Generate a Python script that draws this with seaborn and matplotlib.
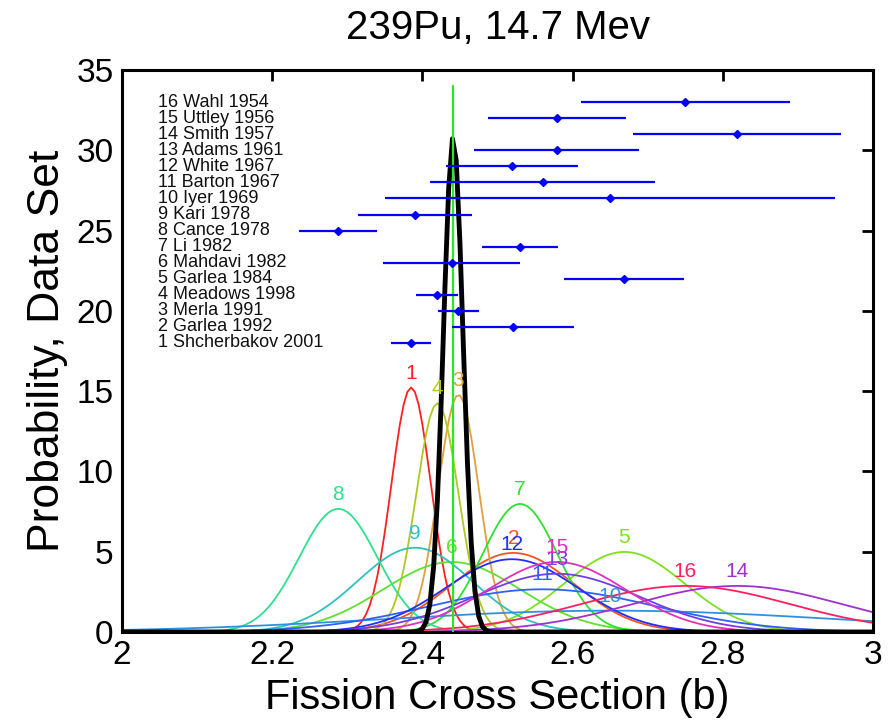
import numpy as np
import pandas as pd
import matplotlib
matplotlib.use("Agg")
import matplotlib.pyplot as plt
import seaborn as sns

# ---- data ----
set_ids = list(range(1, 17))
names = ["Shcherbakov 2001", "Garlea 1992", "Merla 1991", "Meadows 1998",
         "Garlea 1984", "Mahdavi 1982", "Li 1982", "Cance 1978", "Kari 1978",
         "Iyer 1969", "Barton 1967", "White 1967", "Adams 1961", "Smith 1957",
         "Uttley 1956", "Wahl 1954"]
means = [2.385, 2.521, 2.448, 2.420, 2.669, 2.439, 2.530, 2.288, 2.390,
         2.650, 2.560, 2.519, 2.579, 2.819, 2.579, 2.750]
sigmas = [0.0262, 0.081, 0.027, 0.028, 0.080, 0.0915, 0.050, 0.052, 0.076,
          0.300, 0.150, 0.088, 0.110, 0.139, 0.0915, 0.139]
colors = ["#ff2020", "#ff5020", "#e0a040", "#b0c820", "#80e020", "#60e030",
          "#30e030", "#30e090", "#30c0c0", "#3090e0", "#3060ff", "#2030ff",
          "#7040e0", "#a030d0", "#e030c0", "#ff2060"]
x_ticks = [2, 2.2, 2.4, 2.6, 2.8, 3]
y_ticks = [0, 5, 10, 15, 20, 25, 30, 35]

# combined (weighted) result
w = 1.0 / np.array(sigmas) ** 2
comb_mean = float(np.sum(w * np.array(means)) / np.sum(w))
comb_sigma = float(1.0 / np.sqrt(np.sum(w)))

xg = np.linspace(2.0, 3.0, 201)


def gauss(x, m, s):
    return np.exp(-0.5 * ((x - m) / s) ** 2) / (s * np.sqrt(2 * np.pi))


rows = []
for k, m, s in zip(set_ids, means, sigmas):
    for xv, yv in zip(xg, gauss(xg, m, s)):
        rows.append({"set": str(k), "x": xv, "y": yv})
df = pd.DataFrame(rows)
comb_df = pd.DataFrame({"x": xg, "y": gauss(xg, comb_mean, comb_sigma)})

sns.set_theme(style="white")
plt.rcParams["font.family"] = ["Liberation Sans", "DejaVu Sans"]
plt.rcParams["text.color"] = "black"
plt.rcParams["axes.labelcolor"] = "black"

fig = plt.figure(figsize=(8.88, 7.24), dpi=100)
ax = fig.add_axes([122 / 888, 1 - 632 / 724, (873 - 122) / 888, (632 - 70) / 724])

palette = {str(k): c for k, c in zip(set_ids, colors)}
sns.lineplot(data=df, x="x", y="y", hue="set", palette=palette, ax=ax,
             linewidth=1.3, legend=False, estimator=None, sort=False)

# labels above each peak
for k, m, s, c in zip(set_ids, means, sigmas, colors):
    pk = 1.0 / (s * np.sqrt(2 * np.pi))
    ax.text(m, pk + 0.3, str(k), color=c, fontsize=15, ha="center", va="bottom")

# combined black curve and vertical green line
sns.lineplot(data=comb_df, x="x", y="y", color="black", linewidth=3.5, ax=ax,
             estimator=None, sort=False)
ax.plot([comb_mean, comb_mean], [0, 34], color="#20ee20", linewidth=1.6, zorder=5)

# error bars per data set
ys = [k + 17 for k in set_ids]
ax.errorbar(means, ys, xerr=sigmas, fmt="D", color="#0000ff", markersize=4,
            elinewidth=1.6, capsize=0, zorder=6)
for k, nm, yv in zip(set_ids, names, ys):
    ax.text(2.048, yv, f"{k} {nm}", fontsize=13, ha="left", va="center",
            color="#111111")

ax.set_xlim(2, 3)
ax.set_ylim(0, 35)
ax.set_xticks(x_ticks)
ax.set_xticklabels([f"{v:g}" for v in x_ticks])
ax.set_yticks(y_ticks)
ax.tick_params(direction="in", length=8, width=2, labelsize=24, top=True,
               right=True, pad=6, colors="black")
for sp in ax.spines.values():
    sp.set_linewidth(2.2)
    sp.set_color("black")
ax.set_xlabel("Fission Cross Section (b)", fontsize=30, labelpad=5)
ax.set_ylabel("Probability, Data Set", fontsize=32, labelpad=6)
ax.set_title("239Pu, 14.7 Mev", fontsize=29, pad=22, color="black")

fig.savefig("out.png", dpi=100)
